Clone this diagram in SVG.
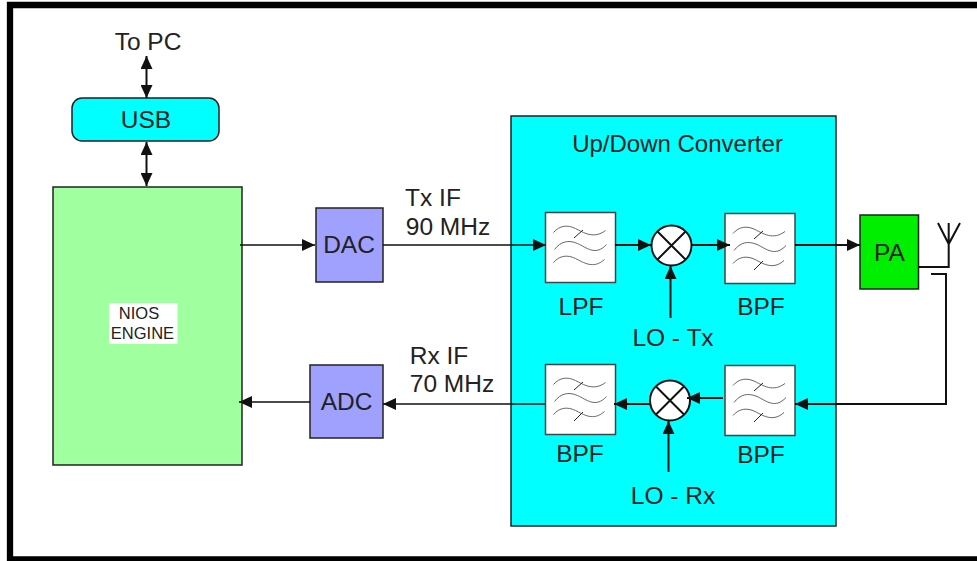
<svg xmlns="http://www.w3.org/2000/svg" width="977" height="561" viewBox="0 0 977 561">
<style>
text{font-family:"Liberation Sans",Arial,sans-serif;font-size:24.500px;fill:#222;text-anchor:middle}
.b{stroke:#222;stroke-width:1.500}
.f{fill:#fff;stroke:#444;stroke-width:1.500}
.w{fill:none;stroke:#666;stroke-width:1}
.t{fill:none;stroke:#222;stroke-width:1}
.c{fill:none;stroke:#111;stroke-width:1.600}
.d{fill:none;stroke:#111;stroke-width:2}
.x{fill:#fff;stroke:#111;stroke-width:2}
</style>
<defs>
<marker id="a" markerUnits="userSpaceOnUse" markerWidth="14" markerHeight="12" refX="13" refY="6" orient="auto-start-reverse"><path d="M0 0L13 6L0 12Z" fill="#111"/></marker>
<g id="filt">
<path class="w" d="M8 20C14 13 22 12 30 16S48 27 60 18"/>
<path class="w" d="M9 37C15 29 23 27 32 31S50 44 61 32"/>
<path class="w" d="M8 50C14 43 22 42 30 46S48 57 59 47"/>
</g>
<g id="mix"><circle r="20" class="x"/><path d="M-14 -14L14 14M-14 14L14 -14" stroke="#111" stroke-width="2"/></g>
</defs>
<rect width="977" height="561" fill="#fff"/>
<path d="M980 5H10V559.500H980" fill="none" stroke="#000" stroke-width="6.300"/>
<g id="converter"><rect x="511" y="116" width="325" height="410" fill="#0ff" class="b"/><text x="677.500" y="152" style="font-size:24px">Up/Down Converter</text></g>
<g id="usb"><rect x="72" y="98" width="147" height="43" rx="10" fill="#0ff" class="b"/><text x="146" y="128">USB</text></g>
<g id="nios"><rect x="53" y="187" width="189" height="278" fill="#a0ff9f" class="b"/><rect x="109" y="303" width="68.500" height="41" fill="#fff"/><text x="139" y="319" style="font-size:16.500px">NIOS</text><text x="142.500" y="339" style="font-size:16.500px">ENGINE</text></g>
<g id="dac"><rect x="316" y="208" width="67" height="74" fill="#a0a0ff" class="b"/><text x="349" y="253">DAC</text></g>
<g id="adc"><rect x="310" y="365" width="73" height="73" fill="#a0a0ff" class="b"/><text x="346.500" y="410">ADC</text></g>
<g id="pa"><rect x="860" y="215" width="58.500" height="74" fill="#0e0" stroke="#222" stroke-width="1.500"/><text x="889.500" y="261">PA</text></g>
<g id="lpf1"><rect x="545.500" y="212.500" width="70" height="70" class="f"/><use href="#filt" x="545.500" y="212.500"/><path class="t" d="M574 238L583 230"/><text x="581" y="315">LPF</text></g>
<g id="bpf1"><rect x="725" y="213.500" width="70" height="70" class="f"/><use href="#filt" x="725" y="213.500"/><path class="t" d="M754 239L763 231M754 270L763 261"/><text x="761" y="315">BPF</text></g>
<g id="bpf2"><rect x="545.500" y="364.500" width="70" height="70" class="f"/><use href="#filt" x="545.500" y="364.500"/><path class="t" d="M574 390L583 382M574 421L583 412"/><text x="580" y="462">BPF</text></g>
<g id="bpf3"><rect x="725" y="365.500" width="70" height="70" class="f"/><use href="#filt" x="725" y="365.500"/><path class="t" d="M754 391L763 383M754 422L763 413"/><text x="761" y="463">BPF</text></g>
<g id="mix1"><use href="#mix" x="671.500" y="245.500"/></g>
<g id="mix2"><use href="#mix" x="670" y="400.500"/></g>
<g id="labels">
<text x="148" y="50">To PC</text>
<text x="433" y="206">Tx IF</text><text x="448" y="235">90 MHz</text>
<text x="439" y="364">Rx IF</text><text x="452" y="392">70 MHz</text>
<text x="673" y="346">LO - Tx</text><text x="673" y="504">LO - Rx</text>
</g>
<g id="connectors">
<path class="d" marker-start="url(#a)" marker-end="url(#a)" d="M146.500 56V98"/>
<path class="d" marker-start="url(#a)" marker-end="url(#a)" d="M146.500 142V186"/>
<path class="c" marker-end="url(#a)" d="M240 245H315"/>
<path class="c" marker-end="url(#a)" d="M383 245H546"/>
<path class="d" marker-end="url(#a)" d="M615 245H651"/>
<path class="d" marker-end="url(#a)" d="M692 245H730"/>
<path class="d" marker-end="url(#a)" d="M795 245H860"/>
<path class="d" marker-end="url(#a)" d="M670.500 318V266"/>
<path class="d" d="M918 267H948.700V223M938 223L948.700 244L960 223"/>
<path class="d" marker-end="url(#a)" d="M931 274H946V404H795"/>
<path class="d" marker-end="url(#a)" d="M723 398H687"/>
<path class="d" marker-end="url(#a)" d="M650 404H614"/>
<path class="d" marker-end="url(#a)" d="M668.500 472V421"/>
<path class="c" marker-end="url(#a)" d="M545 404H383"/>
<path class="c" marker-end="url(#a)" d="M310 402H239"/>
</g>
</svg>
